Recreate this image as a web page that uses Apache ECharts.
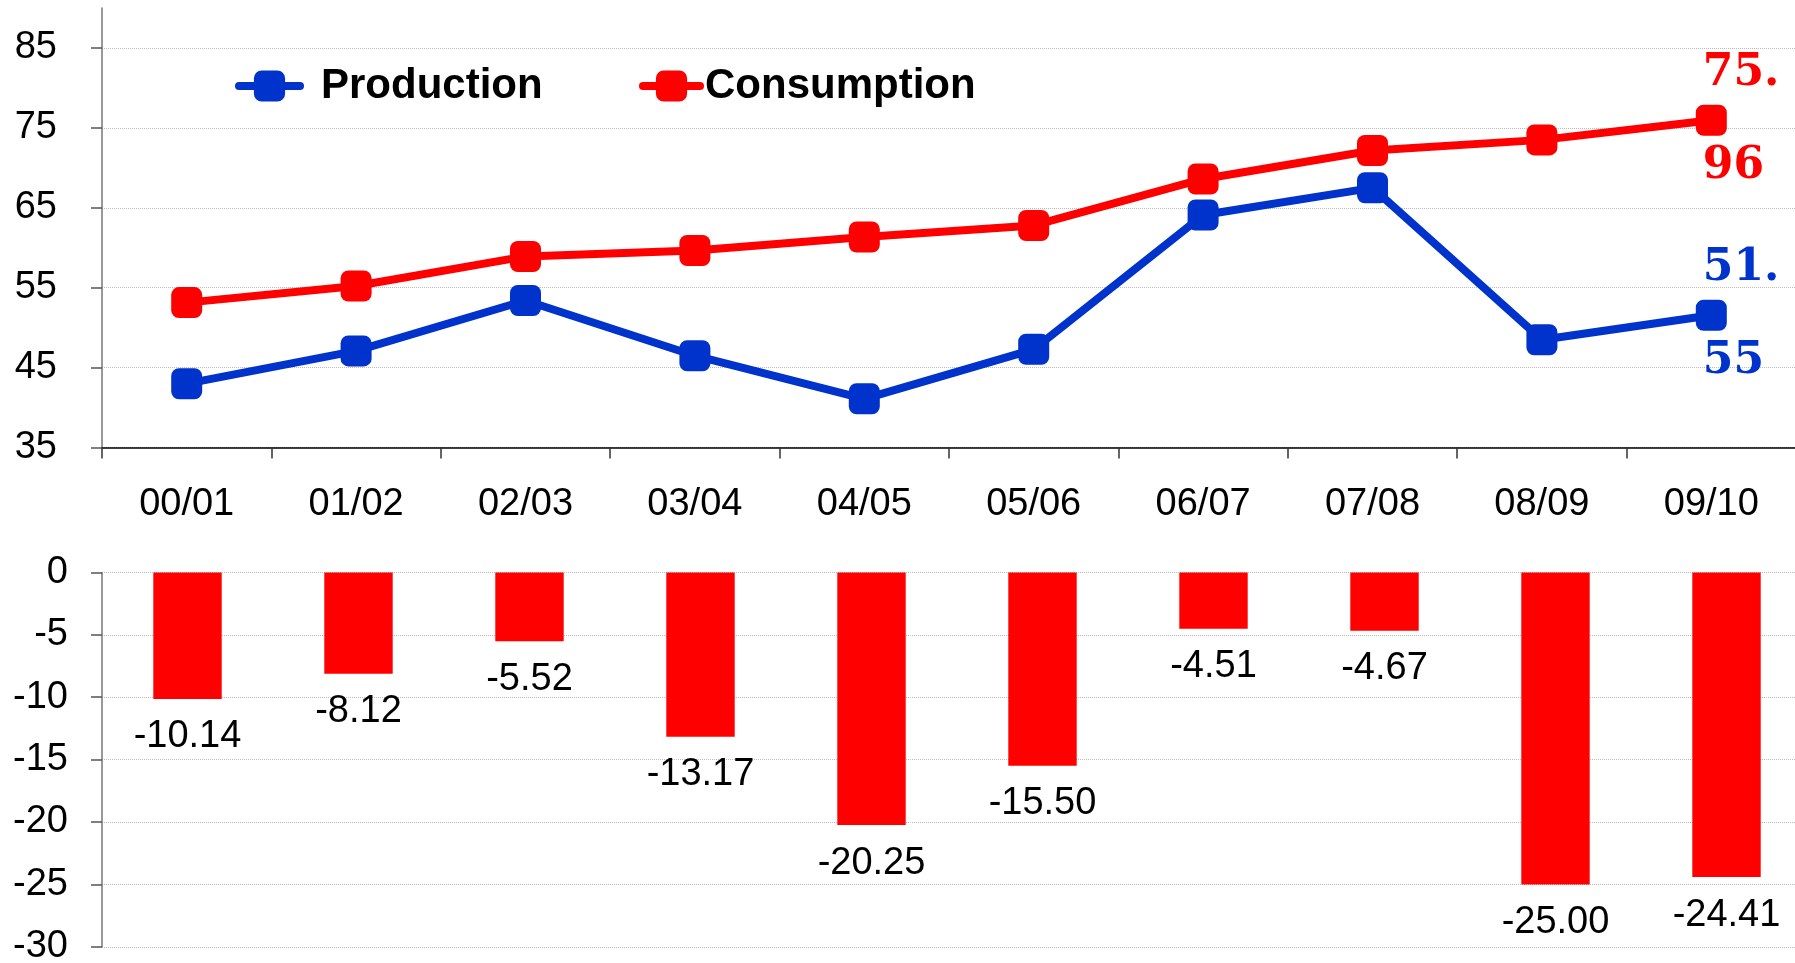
<!DOCTYPE html>
<html>
<head>
<meta charset="utf-8">
<script src="https://cdn.jsdelivr.net/npm/echarts@6/dist/echarts.min.js"></script>
<style>
html,body{margin:0;padding:0;background:#fff;}
#chart{width:1795px;height:963px;}
</style>
</head>
<body>
<div id="chart"></div>
<script>
const categories = ['00/01','01/02','02/03','03/04','04/05','05/06','06/07','07/08','08/09','09/10'];
const production = [43.0, 47.1, 53.4, 46.5, 41.1, 47.3, 64.1, 67.5, 48.5, 51.55];
const consumption = [53.14, 55.22, 58.92, 59.67, 61.35, 62.8, 68.61, 72.17, 73.5, 75.96];
const balance = [-10.14, -8.12, -5.52, -13.17, -20.25, -15.50, -4.51, -4.67, -25.00, -24.41];
const topTicks = [35, 45, 55, 65, 75, 85];

const BLUE = '#0033CC';
const RED = '#FF0000';
const SANS = 'Liberation Sans, Arial, sans-serif';

function lastLabeled(values, color) {
  const last = values.length - 1;
  return values.map((v, i) => i === last ? {
    value: v,
    label: {
      show: true,
      position: [7, 15],
      align: 'left',
      verticalAlign: 'middle',
      fontFamily: 'DejaVu Serif',
      fontWeight: 'bold',
      fontSize: 44,
      lineHeight: 93,
      color: color,
      formatter: p => { const s = p.value.toFixed(2); return s.slice(0, 3) + '\n' + s.slice(3); }
    }
  } : v);
}

const chart = echarts.init(document.getElementById('chart'), null, {renderer: 'canvas'});
const gridLine = {show: true, lineStyle: {color: '#bbbbbb', type: 'dotted', width: 1}};

chart.setOption({
  animation: false,
  backgroundColor: '#fff',
  legend: [
    {
      data: ['Production'], left: 235, top: 65, padding: 0,
      itemWidth: 61, itemHeight: 39,
      lineStyle: {width: 8, cap: 'round'},
      textStyle: {fontSize: 42, fontWeight: 'bold', fontFamily: SANS, color: '#000', padding: [0, 0, 0, 16]}
    },
    {
      data: ['Consumption'], left: 639, top: 65, padding: 0,
      itemWidth: 57, itemHeight: 39,
      lineStyle: {width: 8, cap: 'round'},
      textStyle: {fontSize: 42, fontWeight: 'bold', fontFamily: SANS, color: '#000'}
    }
  ],
  grid: [
    {left: 102, top: 8, width: 1694, height: 439.6, containLabel: false, outerBoundsMode: 'none'},
    {left: 102, top: 572.4, width: 1710, height: 374.4, containLabel: false, outerBoundsMode: 'none'}
  ],
  xAxis: [
    {
      type: 'category', gridIndex: 0, data: categories, boundaryGap: true,
      axisLine: {show: true, lineStyle: {color: '#000', width: 1.5}},
      axisTick: {show: true, length: 11, inside: false, lineStyle: {color: '#333', width: 1.5}},
      axisLabel: {fontSize: 38, fontFamily: SANS, color: '#000', margin: 38},
      splitLine: {show: false}
    },
    {
      type: 'category', gridIndex: 1, data: categories, show: false
    }
  ],
  yAxis: [
    {
      type: 'value', gridIndex: 0, min: 35, max: 90,
      axisLine: {show: true, lineStyle: {color: '#777', width: 1.5}},
      axisTick: {show: true, length: 11, customValues: topTicks, lineStyle: {color: '#555', width: 1.5}},
      axisLabel: {fontSize: 38, fontFamily: SANS, color: '#000', margin: 45, customValues: topTicks},
      splitLine: gridLine
    },
    {
      type: 'value', gridIndex: 1, min: -30, max: 0, interval: 5,
      axisLine: {show: true, lineStyle: {color: '#777', width: 1.5}},
      axisTick: {show: true, length: 11, lineStyle: {color: '#555', width: 1.5}},
      axisLabel: {fontSize: 38, fontFamily: SANS, color: '#000', margin: 34},
      splitLine: gridLine
    }
  ],
  series: [
    {
      name: 'Consumption', type: 'line', xAxisIndex: 0, yAxisIndex: 0,
      data: lastLabeled(consumption, RED),
      symbol: 'roundRect', symbolSize: 31,
      color: RED,
      lineStyle: {width: 8, color: RED, cap: 'round'},
      itemStyle: {color: RED},
      label: {show: false}
    },
    {
      name: 'Production', type: 'line', xAxisIndex: 0, yAxisIndex: 0,
      data: lastLabeled(production, BLUE),
      symbol: 'roundRect', symbolSize: 31,
      color: BLUE,
      lineStyle: {width: 8, color: BLUE, cap: 'round'},
      itemStyle: {color: BLUE},
      label: {show: false}
    },
    {
      name: 'Balance', type: 'bar', xAxisIndex: 1, yAxisIndex: 1,
      data: balance, barWidth: '40%',
      itemStyle: {color: RED},
      label: {
        show: true, position: 'bottom', distance: 19,
        fontSize: 38, fontFamily: SANS, color: '#000',
        formatter: p => p.value.toFixed(2)
      }
    }
  ]
});
</script>
</body>
</html>
